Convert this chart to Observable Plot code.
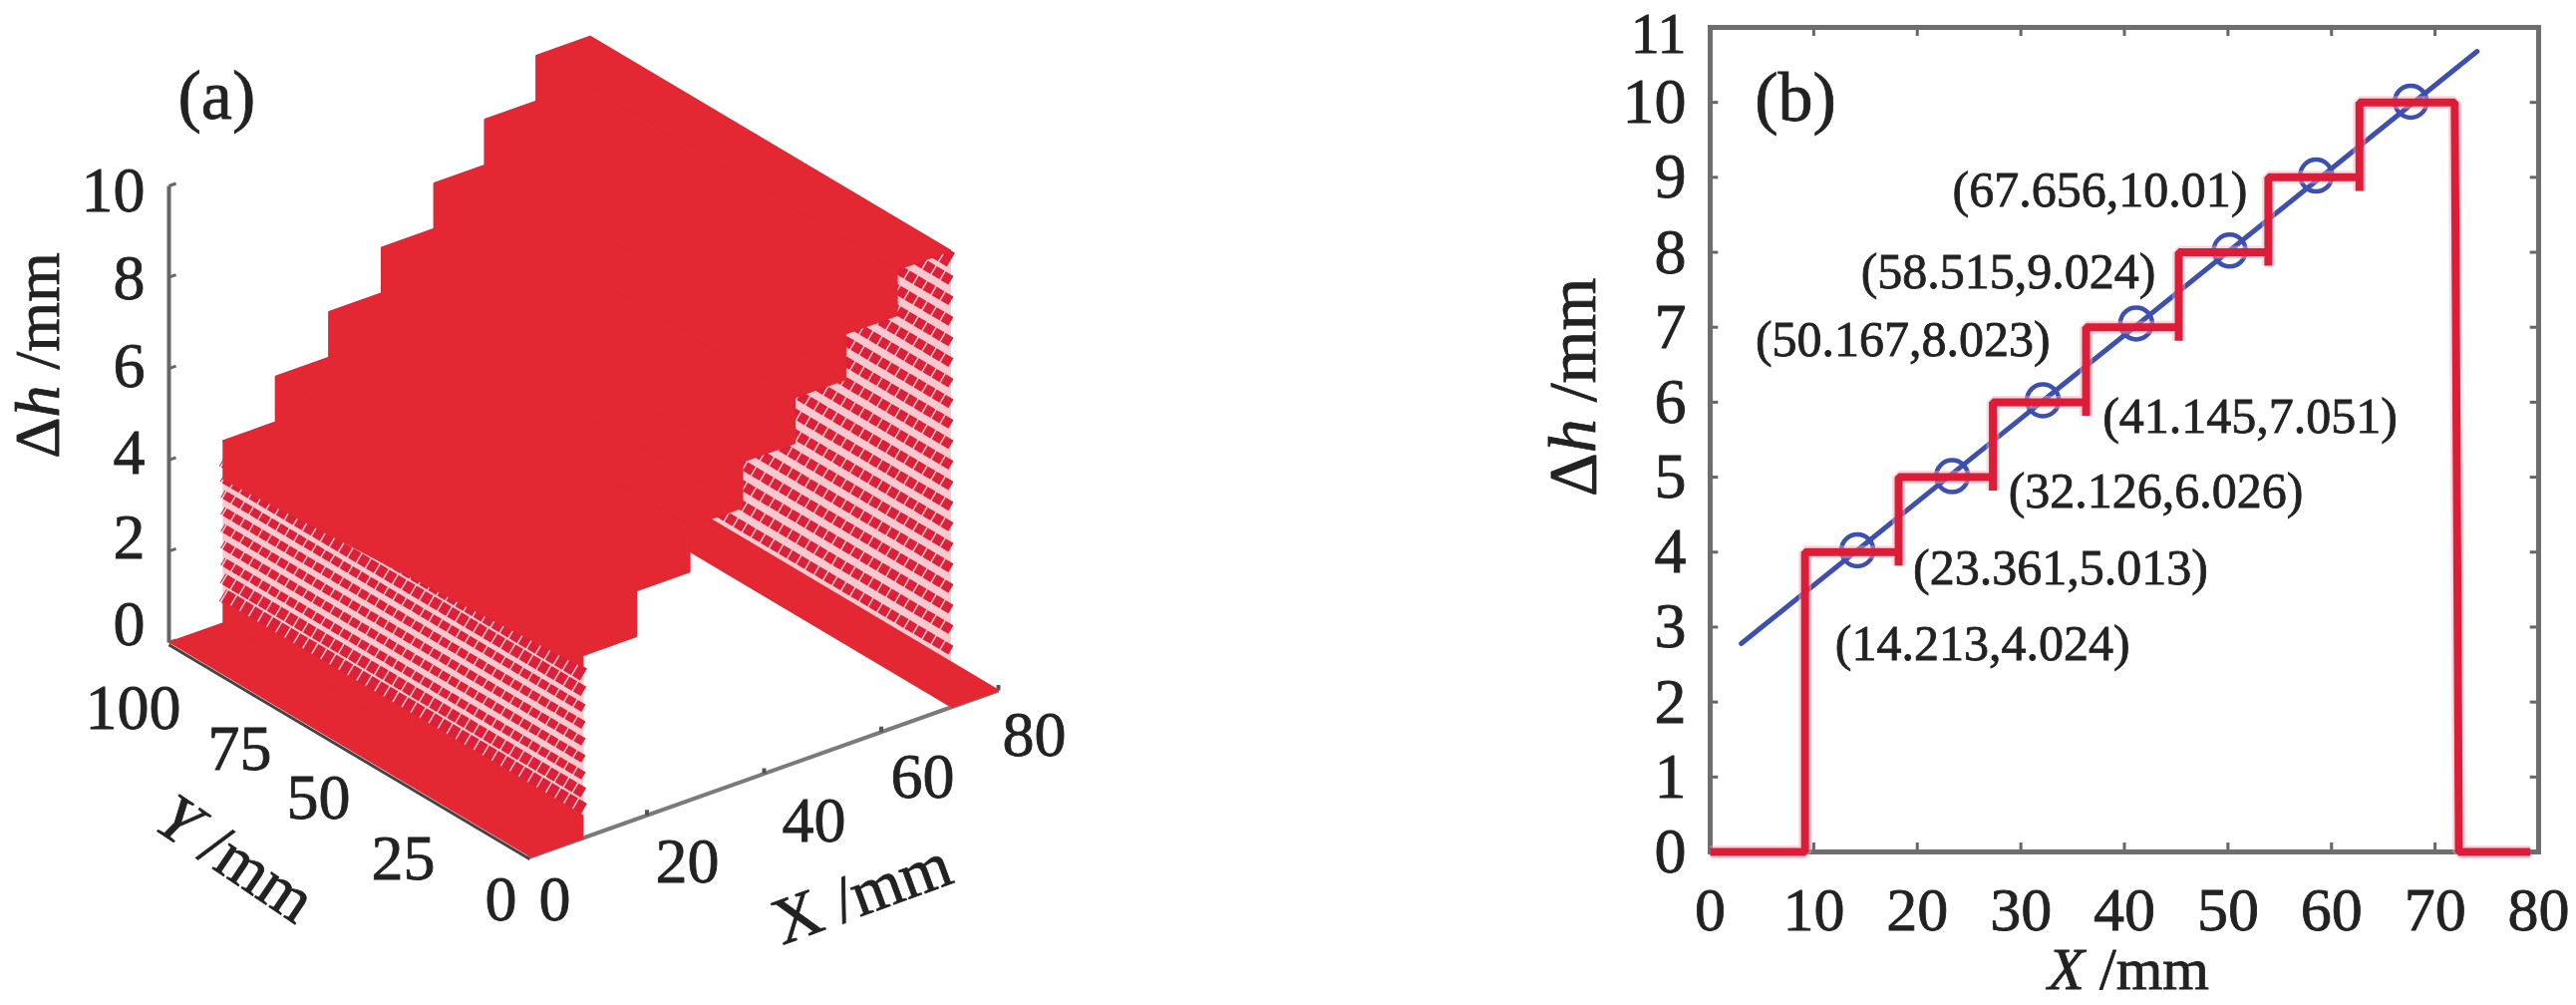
<!DOCTYPE html>
<html><head><meta charset="utf-8">
<script src="https://cdn.jsdelivr.net/npm/d3@7"></script>
<script src="https://cdn.jsdelivr.net/npm/@observablehq/plot@0.6"></script>
<style>
html,body{margin:0;padding:0;background:#fff;width:2584px;height:1008px;overflow:hidden}
#wrap{display:flex;width:2584px;height:1008px}
svg{display:block;filter:blur(0.7px);font-family:"Liberation Serif",serif;background:#fff}
svg text{stroke:#222;stroke-width:0.8px}
</style></head><body><div id="wrap"></div>
<script>
// ---------- data ----------
const stepEdges = [9.16, 18.2, 27.3, 36.3, 45.25, 53.9, 62.7, 71.9];
const stepHeights = [4, 5, 6, 7, 8, 9, 10];
const profileEnd = [0, 79.2];
const stepDip = [3.82, 4.82, 5.82, 6.82, 7.82, 8.82];
const pointX = [14.213, 23.361, 32.126, 41.145, 50.167, 58.515, 67.656];
const pointH = [4.024, 5.013, 6.026, 7.051, 8.023, 9.024, 10.01];
const fitX = [3.0, 74.06];
const fitH = [2.78, 10.68];
const labelText = ["(14.213,4.024)","(23.361,5.013)","(32.126,6.026)","(41.145,7.051)","(50.167,8.023)","(58.515,9.024)","(67.656,10.01)"];
const xTicksB = [0,10,20,30,40,50,60,70,80];
const yTicksB = [0,1,2,3,4,5,6,7,8,9,10,11];
const hTicksA = [0,2,4,6,8,10];
const yTicksA = [0,25,50,75,100];
const xTicksA = [0,20,40,60,80];
const groundBands = [[0,9.16],[71.9,80]];
const leftWallLevels = [0.62,0.99,1.36,1.73,2.10,2.47,2.84,3.21,3.58];
const rightWallLevels = [0.35,0.8,1.25,1.7,2.15,2.6,3.05,3.5,3.95,4.4,4.85,5.3,5.75,6.2,6.65,7.1,7.55,8,8.45,8.9,9.35,9.8];

// ---------- panel (a): oblique projection of (X, Y, h) on the page ----------
const RED = "#e32733";
const px = (X,Y,h=0) => 531 + X*470/80 - Y*362/100;
const py = (X,Y,h=0) => 859 - X*167/80 - Y*215/100 - h*45.8;
const P = ([X,Y,h],face) => ({x:px(X,Y,h), y:py(X,Y,h), face});
const quad = (face, pts) => pts.map(p => P(p,face));
const X0 = stepEdges[0], X1 = stepEdges[stepEdges.length-1];

const faces = [], walls = [], ground = [];
groundBands.forEach(([a,b],i) => ground.push(...quad("g"+i,[[a,0,0],[b,0,0],[b,100,0],[a,100,0]])));
walls.push(...quad("wl",[[X0,0,0],[X0,0,4],[X0,100,4],[X0,100,0]]));
walls.push(...quad("wr",[[X1,0,0],[X1,0,10],[X1,100,10],[X1,100,0]]));
stepHeights.forEach((h,i) => {
  const a = stepEdges[i], b = stepEdges[i+1];
  faces.push(...quad("top"+i,[[a,0,h],[b,0,h],[b,100,h],[a,100,h]]));
  const prev = i ? stepHeights[i-1] : h;
  faces.push(...quad("riser"+i,[[a,0,prev],[a,0,h],[a,100,h],[a,100,prev]]));
});
const solidLeft = [
  ...quad("sl",[[X0,0,3.72],[X0,0,4],[X0,100,4],[X0,100,3.15]]),
  ...quad("sb",[[X0,0,0],[X0,0,0.5],[X0,100,0.5],[X0,100,0]])
];
const stripe = (X,levels,tag) => levels.flatMap(h => [0,100].map(Y => ({...P([X,Y,h],tag+h), h})));
const leftStripes = stripe(X0,leftWallLevels,"l");
const rightStripes = stripe(X1,rightWallLevels,"r");

const segs = (rows) => rows.flatMap((r,i) => r.map(p => ({...P(p,"s"+i)})));
const hAxis = segs([[[0,100,0],[0,100,10]]]);
const xAxis = segs([[[0,0,0],[80,0,0]]]);
const yAxis = segs([[[0,0,-0.05],[0,100,-0.05]]]);
const hTickSegs = segs(hTicksA.map(h => [[0,100,h],[1.2,100,h]]));
const xTickSegs = segs(xTicksA.map(x => [[x,0,0],[x,0,0.12]]));

const hLabelY = d3.scaleLinear(hTicksA,[626,539,454,367,279,191]);
const yLabelX = d3.scaleLinear(yTicksA,[502,404,319,240,133]);
const yLabelY = d3.scaleLinear(yTicksA,[902,861,800,751,710]);
const xLabelX = d3.scaleLinear(xTicksA,[556,689,816,925,1037]);
const xLabelY = d3.scaleLinear(xTicksA,[902,864,823,779,737]);
const TICK = "#222";
const butt = {strokeLinecap:"butt", strokeLinejoin:"miter"};

const plotA = Plot.plot({
  width:1100, height:1008, marginTop:0, marginRight:0, marginBottom:0, marginLeft:0,
  x:{axis:null, domain:[0,1100], range:[0,1100]},
  y:{axis:null, domain:[0,1008], range:[0,1008]},
  marks:[
    Plot.line(yAxis,{x:"x",y:"y",z:"face",stroke:"#444",strokeWidth:3,...butt}),
    Plot.line(xAxis,{x:"x",y:"y",z:"face",stroke:"#7a7a7a",strokeWidth:4,...butt}),
    Plot.line(xTickSegs,{x:"x",y:"y",z:"face",stroke:"#555",strokeWidth:4,...butt}),
    Plot.line(hAxis,{x:"x",y:"y",z:"face",stroke:"#666",strokeWidth:4,...butt}),
    Plot.line(hTickSegs,{x:"x",y:"y",z:"face",stroke:"#666",strokeWidth:3,...butt}),
    Plot.line(walls,{x:"x",y:"y",z:"face",fill:"#f9c9d0",stroke:"none"}),
    Plot.line(leftStripes,{x:"x",y:"y",z:"face",stroke:"#dc2038",strokeDasharray:"9,1.5",...butt,
      strokeWidth:d => (d.h<0.7 || d.h>3.4 ? 14 : d.h<1 || d.h>3.1 ? 11 : 8.5)}),
    Plot.line(rightStripes,{x:"x",y:"y",z:"face",stroke:"#dc2038",strokeDasharray:"9,1.5",...butt,
      strokeWidth:d => (d.h>9.5 ? 16 : 10)}),
    Plot.line(solidLeft,{x:"x",y:"y",z:"face",fill:RED,stroke:"none"}),
    Plot.line(ground,{x:"x",y:"y",z:"face",fill:RED,stroke:RED,strokeWidth:2,...butt}),
    Plot.line(faces,{x:"x",y:"y",z:"face",fill:RED,stroke:RED,strokeWidth:1.5,...butt}),
    Plot.text(hTicksA,{x:()=>145,y:d=>hLabelY(d),text:d=>String(d),textAnchor:"end",fontSize:64,fill:TICK}),
    Plot.text(yTicksA,{x:d=>yLabelX(d),y:d=>yLabelY(d),text:d=>String(d),fontSize:64,fill:TICK}),
    Plot.text(xTicksA,{x:d=>xLabelX(d),y:d=>xLabelY(d),text:d=>String(d),fontSize:64,fill:TICK}),
    Plot.text(["Δh /mm"],{x:()=>38,y:()=>356,text:d=>d,rotate:-90,fontSize:64,fill:TICK}),
    Plot.text(["Y /mm"],{x:()=>236,y:()=>861,text:d=>d,rotate:34,fontSize:66,fill:TICK}),
    Plot.text(["X /mm"],{x:()=>864,y:()=>896,text:d=>d,rotate:-20,fontSize:66,fill:TICK}),
    Plot.text(["(a)"],{x:()=>178,y:()=>96,text:d=>d,textAnchor:"start",fontSize:70,fill:TICK})
  ]
});

// ---------- panel (b) ----------
const profile = [{x:profileEnd[0],h:0},{x:stepEdges[0],h:0}];
stepHeights.forEach((h,i) => {
  profile.push({x:stepEdges[i],h},{x:stepEdges[i+1],h});
  if (i < stepDip.length) profile.push({x:stepEdges[i+1],h:stepDip[i]});
});
profile.push({x:72.3,h:0},{x:profileEnd[1],h:0});
const points = pointX.map((x,i) => ({x,h:pointH[i]}));
const fit = fitX.map((x,i) => ({x,h:fitH[i]}));
const labelAtX = [12.06,19.6,28.8,37.9,4.37,14.55,23.4];
const labelAtY = [2.77,3.79,4.81,5.80,6.83,7.73,8.83];
const labels = labelText.map((t,i) => ({t,x:labelAtX[i],y:labelAtY[i]}));
const topTick = yTicksB[yTicksB.length-1];

const plotB = Plot.plot({
  width:1484, height:1008, marginTop:27, marginRight:38, marginBottom:154, marginLeft:615,
  x:{domain:[0,80]},
  y:{domain:[0,11]},
  marks:[
    Plot.ruleX(xTicksB,{x:d=>d,y1:0,y2:0.12,stroke:"#666",strokeWidth:3}),
    Plot.ruleX(xTicksB,{x:d=>d,y1:11,y2:10.88,stroke:"#666",strokeWidth:3}),
    Plot.ruleY(yTicksB,{y:d=>d,x1:0,x2:0.8,stroke:"#666",strokeWidth:3}),
    Plot.ruleY(yTicksB,{y:d=>d,x1:80,x2:79.2,stroke:"#666",strokeWidth:3}),
    Plot.frame({stroke:"#6e6e6e",strokeWidth:5}),
    Plot.axisX({ticks:xTicksB,tickSize:0,tickPadding:34,fontSize:62,label:null,fill:TICK,tickFormat:d=>String(d)}),
    Plot.axisY({ticks:yTicksB.filter(d=>d!==topTick),tickSize:0,tickPadding:24,fontSize:64,label:null,fill:TICK,tickFormat:d=>String(d)}),
    Plot.text([topTick],{x:()=>0,y:d=>d,text:d=>String(d),textAnchor:"end",dx:-24,dy:7,fontSize:58,fill:TICK}),
    Plot.line(fit,{x:"x",y:"h",stroke:"#3d50b0",strokeWidth:5}),
    Plot.dot(points,{x:"x",y:"h",r:16,stroke:"#3d50b0",strokeWidth:4.5,fill:"none"}),
    Plot.line(profile,{x:"x",y:"h",curve:"linear",stroke:"#f7a8b6",strokeWidth:13,strokeOpacity:0.45,...butt}),
    Plot.line(profile,{x:"x",y:"h",curve:"linear",stroke:"#dd1c38",strokeWidth:8,...butt}),
    Plot.text(labels,{x:"x",y:"y",text:"t",textAnchor:"start",fontSize:50,fill:TICK}),
    Plot.text(["(b)"],{x:()=>4.3,y:()=>10.05,text:d=>d,textAnchor:"start",fontSize:70,fill:TICK}),
    Plot.text(["Δh /mm"],{x:()=>-13.2,y:()=>6.2,text:d=>d,rotate:-90,fontSize:68,fill:TICK}),
    Plot.text(["X /mm"],{x:()=>40.4,y:()=>-1.57,text:d=>d,fontSize:60,fill:TICK})
  ]
});

// italic symbols in the axis titles, kept as real text
const NS = "http://www.w3.org/2000/svg";
[plotA,plotB].forEach(svg => svg.querySelectorAll("text").forEach(t => {
  const holder = t.querySelector("tspan") || t;
  const s = holder.textContent;
  const m = s.match(/^(Δ?)([hXY])( \/mm)$/);
  if (!m) return;
  holder.textContent = "";
  const add = (txt,it) => { const e = document.createElementNS(NS,"tspan"); e.textContent = txt; if(it) e.setAttribute("font-style","italic"); holder.appendChild(e); };
  if (m[1]) add(m[1],false);
  const plainX = m[2]==="X" && svg===plotA;
  add(m[2],!plainX);
  add(m[3],false);
}));
document.getElementById("wrap").append(plotA,plotB);
</script></body></html>
